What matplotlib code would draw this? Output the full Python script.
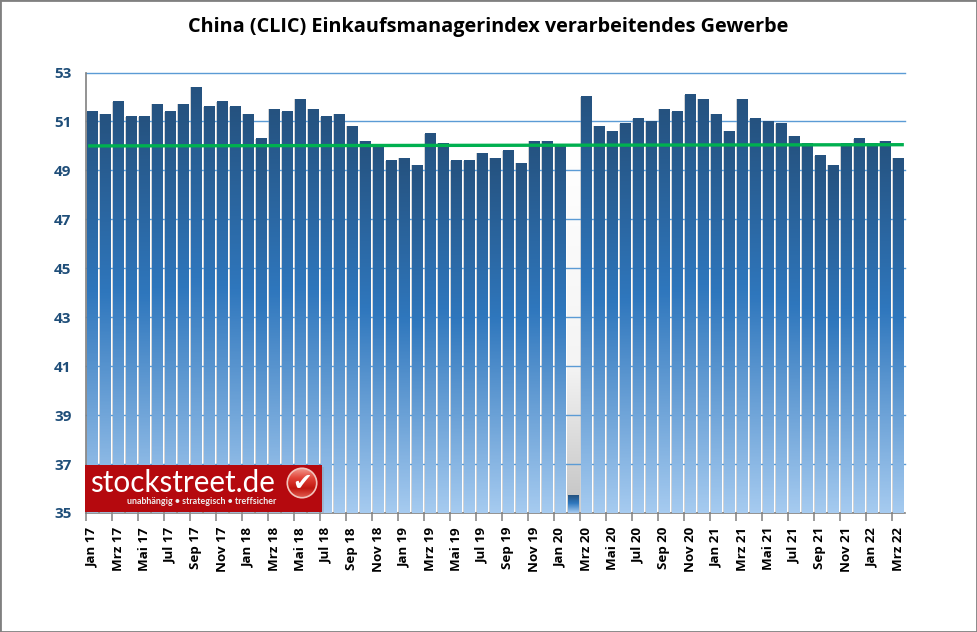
import numpy as np
import matplotlib
matplotlib.use('Agg')
import matplotlib.pyplot as plt
from matplotlib.colors import LinearSegmentedColormap
from matplotlib.patches import Rectangle, Circle

years = ['17', '18', '19', '20', '21', '22']
months = ['Jan', 'Feb', 'Mrz', 'Apr', 'Mai', 'Jun', 'Jul', 'Aug', 'Sep', 'Okt', 'Nov', 'Dez']
categories = [m + ' ' + y for y in years for m in months][:63]

pmi = [51.4, 51.3, 51.8, 51.2, 51.2, 51.7, 51.4, 51.7, 52.4, 51.6, 51.8, 51.6,
       51.3, 50.3, 51.5, 51.4, 51.9, 51.5, 51.2, 51.3, 50.8, 50.2, 50.0, 49.4,
       49.5, 49.2, 50.5, 50.1, 49.4, 49.4, 49.7, 49.5, 49.8, 49.3, 50.2, 50.2,
       50.0, 35.7, 52.0, 50.8, 50.6, 50.9, 51.1, 51.0, 51.5, 51.4, 52.1, 51.9,
       51.3, 50.6, 51.9, 51.1, 51.0, 50.9, 50.4, 50.1, 49.6, 49.2, 50.1, 50.3,
       50.1, 50.2, 49.5]
threshold = [50.0, 50.05]
yticks = [35, 37, 39, 41, 43, 45, 47, 49, 51, 53]

bar_cmap = LinearSegmentedColormap.from_list(
    'bar', [(0, '#25527f'), (0.45, '#2f77bd'), (1, '#a6cbf0')])
gap_cmap = LinearSegmentedColormap.from_list(
    'gap', [(0, '#ffffff'), (0.6, '#f4f4f4'), (1, '#c2c2c2')])
badge_cmap = LinearSegmentedColormap.from_list(
    'badge', ['#f4a89c', '#e2453a', '#c0160f', '#e86a5c'])
grad = np.linspace(0, 1, 256).reshape(-1, 1)

fig = plt.figure(figsize=(9.77, 6.32), dpi=100)
fig.patch.set_facecolor('white')
fig.add_artist(Rectangle((0, 0), 1, 1, transform=fig.transFigure, fill=False,
                         edgecolor='#808080', linewidth=2))

ax = fig.add_axes([85.5 / 977, 1 - 513 / 632, 819 / 977, 440.5 / 632])
x = np.arange(len(pmi))
width = 0.77

ax.set_yticks(yticks)
for t in yticks[1:]:
    ax.axhline(t, color='#5b9bd5', linewidth=1.0, zorder=2.5, clip_on=False)

# grey shadow in the gap of the Feb 20 outlier
low = pmi.index(min(pmi))
ax.imshow(grad, cmap=gap_cmap, extent=(low - 0.5, low + 0.5, 35, pmi[low - 1]),
          aspect='auto', zorder=1.5)

# bar backing and shadow, then gradient bars
ax.bar(x, pmi, width=0.98, color='#d0d2d4', zorder=2)
ax.bar(x + 0.07, pmi, width=width, color='#7d8892', zorder=2.2)
bars = ax.bar(x, pmi, width=width, color='none', edgecolor='none', zorder=3)
for b, v in zip(bars, pmi):
    ax.imshow(grad, cmap=bar_cmap, extent=(b.get_x(), b.get_x() + width, 35, v),
              aspect='auto', interpolation='nearest', zorder=3)

ax.plot([x[0] - 0.3, x[-1] + 0.45], threshold, color='#00b050', linewidth=2.4, zorder=4,
        solid_capstyle='butt')

ax.set_xlim(-0.5, len(pmi) - 0.5)
ax.set_ylim(35, 53)
for side in ['top', 'right']:
    ax.spines[side].set_visible(False)
ax.spines['left'].set_color('#808080')
ax.spines['bottom'].set_color('#808080')
ax.spines['left'].set_linewidth(1.2)
ax.spines['bottom'].set_linewidth(1.2)

ax.set_xticks(x[::2])
ax.set_xticklabels(categories[::2], rotation=90, fontsize=9.6, fontweight='bold',
                   family='Open Sans', color='black')
ax.set_xticks(x[::2] - 0.5, minor=True)
ax.tick_params(axis='x', which='major', length=0, pad=10)
ax.tick_params(axis='x', which='minor', length=6, color='#808080', width=1.1)
ax.tick_params(axis='y', length=0, pad=10)
for t in ax.get_yticklabels():
    t.set_fontsize(11)
    t.set_fontweight('bold')
    t.set_family('Open Sans')
    t.set_color('#1f4e79')

fig.text(488.5 / 977, 1 - 27 / 632, 'China (CLIC) Einkaufsmanagerindex verarbeitendes Gewerbe',
         ha='center', va='center', fontsize=14.3, fontweight='bold', family='Open Sans',
         color='black')

# logo
fig.add_artist(Rectangle((87 / 977, 1 - 514 / 632), 237 / 977, 47 / 632,
                         transform=fig.transFigure, facecolor='#999999', alpha=0.35,
                         edgecolor='none', zorder=5.5))
fig.add_artist(Rectangle((85 / 977, 1 - 512 / 632), 237 / 977, 47 / 632,
                         transform=fig.transFigure, facecolor='#b5090e', edgecolor='none',
                         zorder=6))
fig.text(90 / 977, 1 - 483 / 632, 'stockstreet.de', ha='left', va='center', fontsize=21.3,
         family='Lato', color='white', zorder=7)
fig.text(201.5 / 977, 1 - 502 / 632, 'unabhängig • strategisch • treffsicher', ha='center',
         va='center', fontsize=6.4, fontweight='bold', family='Lato', color='#eeeeee',
         zorder=7)

badge = fig.add_axes([286 / 977, 1 - 499 / 632, 32 / 977, 32 / 632], zorder=7)
badge.axis('off')
badge.patch.set_alpha(0)
badge.set_xlim(0, 1)
badge.set_ylim(0, 1)
im = badge.imshow(grad, cmap=badge_cmap, extent=(0, 1, 0, 1), aspect='auto')
ring = Circle((0.5, 0.5), 0.46, transform=badge.transAxes, facecolor='none',
              edgecolor='#f2c4bc', linewidth=1.2)
badge.add_patch(ring)
im.set_clip_path(ring)
badge.text(0.5, 0.5, '\u2714', ha='center', va='center', fontsize=17,
           family='DejaVu Sans', color='white', transform=badge.transAxes)

fig.savefig('out.png', dpi=100)
